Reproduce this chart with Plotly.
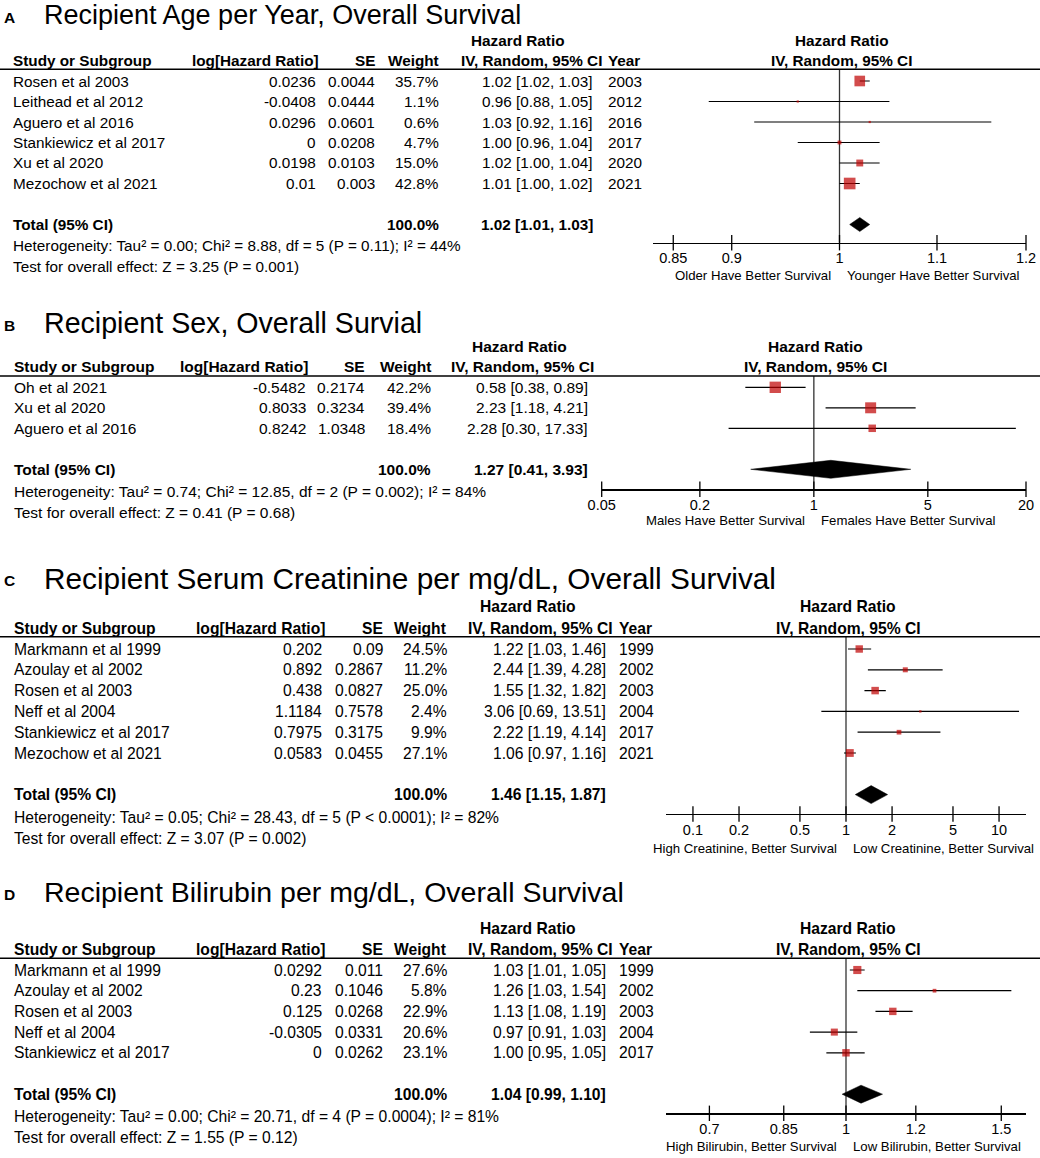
import plotly.graph_objects as go
import math

W, H = 1040, 1158
FONT = "Liberation Sans, Arial, Helvetica, sans-serif"
RED = "#bf0000"

# ---------------- Panel A data ----------------
a_title = "Recipient Age per Year, Overall Survival"
a_study = ["Rosen et al 2003", "Leithead et al 2012", "Aguero et al 2016",
           "Stankiewicz et al 2017", "Xu et al 2020", "Mezochow et al 2021"]
a_loghr = [0.0236, -0.0408, 0.0296, 0, 0.0198, 0.01]
a_se = [0.0044, 0.0444, 0.0601, 0.0208, 0.0103, 0.003]
a_weight = [35.7, 1.1, 0.6, 4.7, 15.0, 42.8]
a_hr = [1.02, 0.96, 1.03, 1.00, 1.02, 1.01]
a_lo = [1.02, 0.88, 0.92, 0.96, 1.00, 1.00]
a_hi = [1.03, 1.05, 1.16, 1.04, 1.04, 1.02]
a_year = [2003, 2012, 2016, 2017, 2020, 2021]
a_total = [1.02, 1.01, 1.03]
a_total_weight = 100.0
a_het = ["0.00", "8.88", 5, "P = 0.11", 44]
a_test = ["3.25", "P = 0.001"]
a_ticks = [0.85, 0.9, 1, 1.1, 1.2]
a_range = [1 / 1.2, 1.2]
a_favours = ["Older Have Better Survival", "Younger Have Better Survival"]

# ---------------- Panel B data ----------------
b_title = "Recipient Sex, Overall Survial"
b_study = ["Oh et al 2021", "Xu et al 2020", "Aguero et al 2016"]
b_loghr = [-0.5482, 0.8033, 0.8242]
b_se = [0.2174, 0.3234, 1.0348]
b_weight = [42.2, 39.4, 18.4]
b_hr = [0.58, 2.23, 2.28]
b_lo = [0.38, 1.18, 0.30]
b_hi = [0.89, 4.21, 17.33]
b_year = None
b_total = [1.27, 0.41, 3.93]
b_total_weight = 100.0
b_het = ["0.74", "12.85", 2, "P = 0.002", 84]
b_test = ["0.41", "P = 0.68"]
b_ticks = [0.05, 0.2, 1, 5, 20]
b_range = [0.05, 20]
b_favours = ["Males Have Better Survival", "Females Have Better Survival"]

# ---------------- Panel C data ----------------
c_title = "Recipient Serum Creatinine per mg/dL, Overall Survival"
c_study = ["Markmann et al 1999", "Azoulay et al 2002", "Rosen et al 2003",
           "Neff et al 2004", "Stankiewicz et al 2017", "Mezochow et al 2021"]
c_loghr = [0.202, 0.892, 0.438, 1.1184, 0.7975, 0.0583]
c_se = [0.09, 0.2867, 0.0827, 0.7578, 0.3175, 0.0455]
c_weight = [24.5, 11.2, 25.0, 2.4, 9.9, 27.1]
c_hr = [1.22, 2.44, 1.55, 3.06, 2.22, 1.06]
c_lo = [1.03, 1.39, 1.32, 0.69, 1.19, 0.97]
c_hi = [1.46, 4.28, 1.82, 13.51, 4.14, 1.16]
c_year = [1999, 2002, 2003, 2004, 2017, 2021]
c_total = [1.46, 1.15, 1.87]
c_total_weight = 100.0
c_het = ["0.05", "28.43", 5, "P < 0.0001", 82]
c_test = ["3.07", "P = 0.002"]
c_ticks = [0.1, 0.2, 0.5, 1, 2, 5, 10]
c_range = [1 / 15, 15]
c_favours = ["High Creatinine, Better Survival", "Low Creatinine, Better Survival"]

# ---------------- Panel D data ----------------
d_title = "Recipient Bilirubin per mg/dL, Overall Survival"
d_study = ["Markmann et al 1999", "Azoulay et al 2002", "Rosen et al 2003",
           "Neff et al 2004", "Stankiewicz et al 2017"]
d_loghr = [0.0292, 0.23, 0.125, -0.0305, 0]
d_se = [0.011, 0.1046, 0.0268, 0.0331, 0.0262]
d_weight = [27.6, 5.8, 22.9, 20.6, 23.1]
d_hr = [1.03, 1.26, 1.13, 0.97, 1.00]
d_lo = [1.01, 1.03, 1.08, 0.91, 0.95]
d_hi = [1.05, 1.54, 1.19, 1.03, 1.05]
d_year = [1999, 2002, 2003, 2004, 2017]
d_total = [1.04, 0.99, 1.10]
d_total_weight = 100.0
d_het = ["0.00", "20.71", 4, "P = 0.0004", 81]
d_test = ["1.55", "P = 0.12"]
d_ticks = [0.7, 0.85, 1, 1.2, 1.5]
d_range = [1 / 1.6, 1.6]
d_favours = ["High Bilirubin, Better Survival", "Low Bilirubin, Better Survival"]

# ---------------- layout geometry (pixels) ----------------
geo_a = dict(letter="A", title_y=15, title_size=27, letter_size=15.5, hr_y=40.7, head_y=60.7,
             line_y=69.3, row0=81, dy=20.5, total_k=7, het_y=246, test_y=267,
             axis_y=242.7, fx0=653, fx1=1026, dh=7, sq=1.78, fav_y=275, font=15.3,
             c_study=13, c_loghr=316, c_loghr_h=319, c_se=375, c_wt=438.5, c_ci=593,
             c_ci_h=602, c_year=608, c_hr=518)
geo_b = dict(letter="B", title_y=323, title_size=28.6, letter_size=15.5, hr_y=346, head_y=366.7,
             line_y=376, row0=387.3, dy=20.5, total_k=4, het_y=491, test_y=512,
             axis_y=489.3, fx0=601.7, fx1=1026, dh=9, sq=1.75, fav_y=520, font=15.5,
             c_study=14, c_loghr=306, c_loghr_h=308, c_se=364.5, c_wt=430.6, c_ci=588,
             c_ci_h=594, c_year=None, c_hr=519)
geo_c = dict(letter="C", title_y=578, title_size=29.8, letter_size=15.5, hr_y=606.7, head_y=628.3,
             line_y=636.7, row0=649, dy=20.8, total_k=7, het_y=817, test_y=838,
             axis_y=814, fx0=666, fx1=1026, dh=9, sq=1.5, fav_y=848.3, font=15.65,
             c_study=13.5, c_loghr=322.4, c_loghr_h=325, c_se=383, c_wt=447, c_ci=606,
             c_ci_h=613, c_year=618.7, c_hr=528)
geo_d = dict(letter="D", title_y=892, title_size=28.5, letter_size=15.5, hr_y=928.3, head_y=949.3,
             line_y=958.3, row0=970, dy=20.7, total_k=6, het_y=1116, test_y=1137,
             axis_y=1113.3, fx0=666, fx1=1026, dh=9, sq=1.55, fav_y=1146.7, font=15.65,
             c_study=13.5, c_loghr=322.4, c_loghr_h=325, c_se=383, c_wt=447, c_ci=606,
             c_ci_h=613, c_year=618.7, c_hr=528)

panels = [
    dict(title=a_title, study=a_study, loghr=a_loghr, se=a_se, weight=a_weight, hr=a_hr,
         lo=a_lo, hi=a_hi, year=a_year, total=a_total, tw=a_total_weight, het=a_het,
         test=a_test, ticks=a_ticks, xr=a_range, fav=a_favours, g=geo_a),
    dict(title=b_title, study=b_study, loghr=b_loghr, se=b_se, weight=b_weight, hr=b_hr,
         lo=b_lo, hi=b_hi, year=b_year, total=b_total, tw=b_total_weight, het=b_het,
         test=b_test, ticks=b_ticks, xr=b_range, fav=b_favours, g=geo_b),
    dict(title=c_title, study=c_study, loghr=c_loghr, se=c_se, weight=c_weight, hr=c_hr,
         lo=c_lo, hi=c_hi, year=c_year, total=c_total, tw=c_total_weight, het=c_het,
         test=c_test, ticks=c_ticks, xr=c_range, fav=c_favours, g=geo_c),
    dict(title=d_title, study=d_study, loghr=d_loghr, se=d_se, weight=d_weight, hr=d_hr,
         lo=d_lo, hi=d_hi, year=d_year, total=d_total, tw=d_total_weight, het=d_het,
         test=d_test, ticks=d_ticks, xr=d_range, fav=d_favours, g=geo_d),
]


def px(x):
    return x / W


def py(y):
    return 1 - y / H


annotations = []
shapes = []


def ann(x, y, text, anchor="left", size=15, bold=False):
    if bold:
        text = "<b>" + text + "</b>"
    annotations.append(dict(
        x=px(x), y=py(y), xref="paper", yref="paper", text=text, showarrow=False,
        xanchor=anchor, yanchor="middle", borderpad=0, borderwidth=0,
        font=dict(family=FONT, size=size, color="black")))


def f2(v):
    return "%.2f" % v


fig = go.Figure()
layout_axes = {}

for i, p in enumerate(panels):
    g = p["g"]
    n = len(p["study"])
    fs = g["font"]
    # ---- titles ----
    ann(4, g["title_y"] + 2, g["letter"], "left", g["letter_size"], bold=True)
    ann(44, g["title_y"], p["title"], "left", g["title_size"])
    # ---- table header ----
    ann(g["c_hr"], g["hr_y"], "Hazard Ratio", "center", fs, True)
    ann(g["c_study"], g["head_y"], "Study or Subgroup", "left", fs, True)
    ann(g["c_loghr_h"], g["head_y"], "log[Hazard Ratio]", "right", fs, True)
    ann(g["c_se"], g["head_y"], "SE", "right", fs, True)
    ann(g["c_wt"], g["head_y"], "Weight", "right", fs, True)
    ann(g["c_ci_h"], g["head_y"], "IV, Random, 95% CI", "right", fs, True)
    if p["year"] is not None:
        ann(g["c_year"], g["head_y"], "Year", "left", fs, True)
    fc = (g["fx0"] + g["fx1"]) / 2 + 2
    ann(fc, g["hr_y"], "Hazard Ratio", "center", fs, True)
    ann(fc, g["head_y"], "IV, Random, 95% CI", "center", fs, True)
    shapes.append(dict(type="line", xref="paper", yref="paper", x0=0, x1=1,
                       y0=py(g["line_y"]), y1=py(g["line_y"]),
                       line=dict(color="black", width=1.5)))
    # ---- table rows ----
    for k in range(n):
        yk = g["row0"] + k * g["dy"]
        ann(g["c_study"], yk, p["study"][k], "left", fs)
        ann(g["c_loghr"], yk, "%g" % p["loghr"][k], "right", fs)
        ann(g["c_se"], yk, "%g" % p["se"][k], "right", fs)
        ann(g["c_wt"], yk, "%.1f%%" % p["weight"][k], "right", fs)
        ann(g["c_ci"], yk, "%s [%s, %s]" % (f2(p["hr"][k]), f2(p["lo"][k]), f2(p["hi"][k])),
            "right", fs)
        if p["year"] is not None:
            ann(g["c_year"], yk, str(p["year"][k]), "left", fs)
    yt = g["row0"] + g["total_k"] * g["dy"]
    t = p["total"]
    ann(g["c_study"], yt, "Total (95% CI)", "left", fs, True)
    ann(g["c_wt"], yt, "%.1f%%" % p["tw"], "right", fs, True)
    ann(g["c_ci"], yt, "%s [%s, %s]" % (f2(t[0]), f2(t[1]), f2(t[2])), "right", fs, True)
    h = p["het"]
    ann(g["c_study"], g["het_y"],
        "Heterogeneity: Tau² = %s; Chi² = %s, df = %d (%s); I² = %d%%" % (h[0], h[1], h[2], h[3], h[4]),
        "left", fs)
    ann(g["c_study"], g["test_y"],
        "Test for overall effect: Z = %s (%s)" % (p["test"][0], p["test"][1]), "left", fs)
    # ---- forest plot ----
    xa = "x" if i == 0 else "x%d" % (i + 1)
    ya = "y" if i == 0 else "y%d" % (i + 1)
    dy = g["dy"]
    k_axis = (g["axis_y"] - g["row0"]) / dy
    k_line = (g["line_y"] - g["row0"]) / dy
    kt = g["total_k"]
    # reference line at HR = 1
    fig.add_trace(go.Scatter(x=[1, 1], y=[k_line, k_axis], mode="lines",
                             line=dict(color="#333333", width=1.3), xaxis=xa, yaxis=ya,
                             hoverinfo="skip"))
    # CI lines
    cx, cy = [], []
    for k in range(n):
        cx += [p["lo"][k], p["hi"][k], None]
        cy += [k, k, None]
    fig.add_trace(go.Scatter(x=cx, y=cy, mode="lines", line=dict(color="black", width=1.2),
                             xaxis=xa, yaxis=ya, hoverinfo="skip"))
    # squares (side ~ sqrt(weight))
    sizes = [max(g["sq"] * math.sqrt(w), 2.2) for w in p["weight"]]
    fig.add_trace(go.Scatter(x=p["hr"], y=list(range(n)), mode="markers",
                             marker=dict(symbol="square", size=sizes, color=RED,
                                         line=dict(width=0)),
                             xaxis=xa, yaxis=ya, cliponaxis=False))
    # diamond
    hd = g["dh"] / dy
    fig.add_trace(go.Scatter(x=[t[1], t[0], t[2], t[0], t[1]],
                             y=[kt, kt - hd, kt, kt + hd, kt], mode="lines", fill="toself",
                             fillcolor="black", line=dict(color="black", width=0.5),
                             xaxis=xa, yaxis=ya, hoverinfo="skip"))
    # tick marks crossing the axis line
    fig.add_trace(go.Scatter(x=p["ticks"], y=[k_axis] * len(p["ticks"]), mode="markers",
                             marker=dict(symbol="line-ns", size=11,
                                         line=dict(color="black", width=1.3)),
                             xaxis=xa, yaxis=ya, cliponaxis=False, hoverinfo="skip"))
    # favours labels
    x1px = g["fx0"] + (g["fx1"] - g["fx0"]) * (0 - math.log10(p["xr"][0])) / (
        math.log10(p["xr"][1]) - math.log10(p["xr"][0]))
    ann(x1px - 9, g["fav_y"], p["fav"][0], "right", 13.2)
    ann(x1px + 7, g["fav_y"], p["fav"][1], "left", 13.2)

    layout_axes["xaxis" if i == 0 else "xaxis%d" % (i + 1)] = dict(
        type="log", range=[math.log10(p["xr"][0]), math.log10(p["xr"][1])],
        domain=[px(g["fx0"]), px(g["fx1"])], anchor=ya,
        showline=True, linecolor="black", linewidth=1.3, mirror=False,
        ticks="", ticklabelstandoff=2, automargin=False,
        tickvals=p["ticks"], ticktext=["%g" % v for v in p["ticks"]],
        tickfont=dict(family=FONT, size=14.5, color="black"),
        showgrid=False, zeroline=False, fixedrange=True)
    layout_axes["yaxis" if i == 0 else "yaxis%d" % (i + 1)] = dict(
        range=[k_axis, k_line], domain=[py(g["axis_y"]), py(g["line_y"])], anchor=xa,
        visible=False, showgrid=False, zeroline=False, fixedrange=True)

fig.update_layout(
    width=W, height=H, margin=dict(l=0, r=0, t=0, b=0, autoexpand=False),
    paper_bgcolor="white", plot_bgcolor="white", showlegend=False,
    annotations=annotations, shapes=shapes,
    font=dict(family=FONT, color="black"),
    **layout_axes)

fig.write_html("out.html",
               config={"displayModeBar": False, "staticPlot": True},
               post_script="document.body.style.margin='0px';document.body.style.padding='0px';")
